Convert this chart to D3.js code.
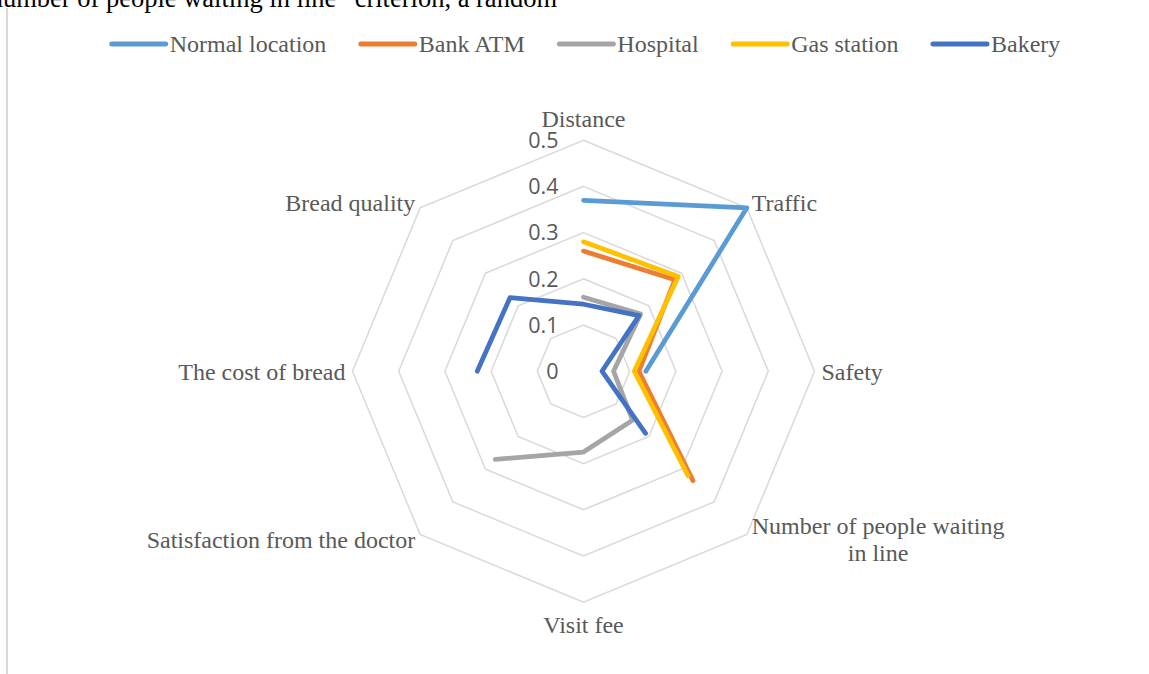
<!DOCTYPE html>
<html>
<head>
<meta charset="utf-8">
<script src="https://cdn.jsdelivr.net/npm/d3@7"></script>
<style>
    body { margin: 0; background: #fff; }
    #radarChart { width: 1149px; height: 674px; }
</style>
</head>
<body>
<div id="radarChart"></div>
<script>
// criteria, clockwise from the top
const criteria = ["Distance", "Traffic", "Safety", "Number of people waiting in line",
    "Visit fee", "Satisfaction from the doctor", "The cost of bread", "Bread quality"];
const seriesNames = ["Normal location", "Bank ATM", "Hospital", "Gas station", "Bakery"];
const seriesColors = ["#5B9BD5", "#ED7D31", "#A5A5A5", "#FFC000", "#4472C4"];

// null = criterion not used for that place, so the line breaks there
const normalLocation = [0.37, 0.50, 0.135, null, null, null, null, null];
const bankATM = [0.26, 0.28, 0.12, 0.335, null, null, null, null];
const hospital = [0.16, 0.175, 0.065, 0.15, 0.175, 0.27, null, null];
const gasStation = [0.28, 0.29, 0.11, 0.32, null, null, null, null];
const bakery = [0.145, 0.17, 0.04, 0.19, null, null, 0.23, 0.225];

const tickValues = [0, 0.1, 0.2, 0.3, 0.4, 0.5];
const tickLabels = ["0", "0.1", "0.2", "0.3", "0.4", "0.5"];

const seriesValues = [normalLocation, bankATM, hospital, gasStation, bakery];

const div = document.getElementById("radarChart");
const divWidth = div.clientWidth;
const divHeight = div.clientHeight;

const svg = d3.select(div).append("svg")
    .attr("width", divWidth)
    .attr("height", divHeight);

const textColor = "#595959";
const serif = "'Liberation Serif', 'Times New Roman', serif";

// cut-off text of the page above the chart
svg.append("text")
    .attr("x", 557).attr("y", 7)
    .attr("text-anchor", "end")
    .style("font-family", serif).style("font-size", "26.5px")
    .style("fill", "#000")
    .text("number of people waiting in line\u201D criterion, a random");

// page border line on the left
svg.append("line")
    .attr("x1", 7).attr("x2", 7).attr("y1", 8).attr("y2", divHeight)
    .style("stroke", "#d9d9d9").style("stroke-width", 2);

// radar geometry
const cx = 583.5, cy = 371.2;
const r = d3.scaleLinear().domain([0, 0.5]).range([0, 231]);
const step = 2 * Math.PI / criteria.length;
const ang = i => i * step;

const g = svg.append("g").attr("transform", `translate(${cx},${cy})`);

// grid octagons
const ringLine = d3.lineRadial()
    .angle((d, i) => ang(i))
    .radius(d => r(d))
    .curve(d3.curveLinearClosed);

g.append("g").attr("class", "grid")
    .selectAll("path").data(tickValues.filter(t => t > 0))
    .enter().append("path")
    .attr("d", t => ringLine(criteria.map(() => t)))
    .style("fill", "none")
    .style("stroke", "#d9d9d9")
    .style("stroke-width", 1.5);

// tick labels along the Distance axis
g.append("g").attr("class", "ticks")
    .selectAll("text").data(tickValues)
    .enter().append("text")
    .attr("x", -25)
    .attr("y", t => -r(t))
    .attr("dy", "0.36em")
    .attr("text-anchor", "end")
    .style("font-family", "'Open Sans', 'Noto Sans', sans-serif")
    .style("font-size", "21.5px")
    .style("fill", textColor)
    .text((t, i) => tickLabels[i]);

// axis labels
const criteriaLines = criteria.map(c => c === "Number of people waiting in line"
    ? ["Number of people waiting", "in line"] : [c]);

const labels = g.append("g").attr("class", "axis-labels");
criteria.forEach((c, i) => {
    const a = ang(i);
    const s = Math.sin(a), co = Math.cos(a);
    const vertical = Math.abs(s) < 0.01;
    const pad = vertical ? 22 : 7;
    const x = (r(0.5) + pad) * s;
    const y = -(r(0.5) + pad) * co;
    const anchor = vertical ? "middle" : (s > 0 ? "start" : "end");
    const lines = criteriaLines[i];
    const lh = 27;

    const t = labels.append("text")
        .style("font-family", serif).style("font-size", "24px")
        .style("fill", textColor);

    if (lines.length === 1) {
        t.attr("x", x).attr("y", y).attr("dy", "0.35em")
            .attr("text-anchor", anchor).text(lines[0]);
    } else {
        // wrapped label: lines centred on each other
        const spans = lines.map((l, k) => t.append("tspan")
            .attr("y", y + (k - (lines.length - 1) / 2) * lh)
            .attr("dy", "0.35em").text(l));
        const w = d3.max(spans, sp => sp.node().getComputedTextLength());
        const mid = anchor === "start" ? x + w / 2 : anchor === "end" ? x - w / 2 : x;
        t.attr("text-anchor", "middle");
        spans.forEach(sp => sp.attr("x", mid));
    }
});

// series lines (first value repeated at the end so the loop can close)
const seriesLine = d3.lineRadial()
    .defined(d => d != null)
    .angle((d, i) => ang(i))
    .radius(d => r(d));

g.append("g").attr("class", "series")
    .selectAll("path").data(seriesValues)
    .enter().append("path")
    .attr("d", d => seriesLine(d.concat([d[0]])))
    .style("fill", "none")
    .style("stroke", (d, i) => seriesColors[i])
    .style("stroke-width", 4.75)
    .style("stroke-linecap", "round")
    .style("stroke-linejoin", "round");

// legend, centred over the radar
const legend = svg.append("g").attr("class", "legend");
const ly = 44, swatch = 54, gapText = 4, gapItem = 34.5;
let lx = 0;
seriesNames.forEach((name, i) => {
    const item = legend.append("g").attr("transform", `translate(${lx},0)`);
    item.append("line")
        .attr("x1", 0).attr("x2", swatch)
        .attr("y1", ly).attr("y2", ly)
        .style("stroke", seriesColors[i])
        .style("stroke-width", 5)
        .style("stroke-linecap", "round");
    const txt = item.append("text")
        .attr("x", swatch + gapText).attr("y", ly).attr("dy", "0.35em")
        .style("font-family", serif).style("font-size", "24px")
        .style("fill", textColor)
        .text(name);
    lx += swatch + gapText + txt.node().getComputedTextLength() + gapItem;
});
const legendWidth = lx - gapItem;
legend.attr("transform", `translate(${586 - legendWidth / 2},0)`);
</script>
</body>
</html>
